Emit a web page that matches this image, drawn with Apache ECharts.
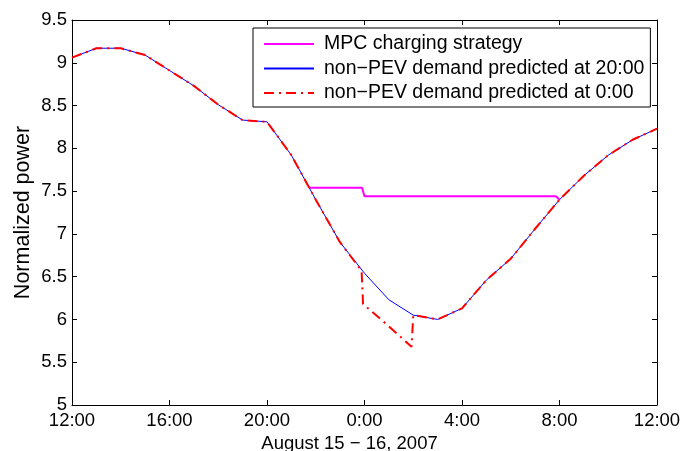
<!DOCTYPE html>
<html>
<head>
<meta charset="utf-8">
<script src="https://cdn.jsdelivr.net/npm/echarts@6/dist/echarts.min.js"></script>
<style>html,body{margin:0;padding:0;background:#fff}#c{width:684px;height:451px}</style>
</head>
<body>
<div id="c"></div>
<script>
// x values: hours elapsed since 12:00 on August 15
var xTickLabels = ['12:00','16:00','20:00','0:00','4:00','8:00','12:00'];
var hours20 = [0,1,2,3,4,5,6,7,8,9,10,11,12,13,14,15,16,17,18,19,20,21,22,23,24];
var demand20 = [9.06,9.17,9.17,9.09,8.91,8.73,8.51,8.33,8.31,7.92,7.40,6.90,6.54,6.23,6.05,6.00,6.13,6.46,6.71,7.06,7.40,7.68,7.92,8.10,8.23];
var hours0 = [0,1,2,3,4,5,6,7,8,9,10,11,11.88,11.94,13,13.93,14,15,16,17,18,19,20,21,22,23,24];
var demand0 = [9.06,9.17,9.17,9.09,8.91,8.73,8.51,8.33,8.31,7.92,7.40,6.90,6.57,6.18,5.92,5.68,6.05,6.00,6.13,6.46,6.71,7.06,7.40,7.68,7.92,8.10,8.23];
var mpcHours = [9.75,11.9,12,19.85,20];
var mpcValues = [7.54,7.54,7.44,7.44,7.40];
var seriesNames = ['MPC charging strategy','non\u2212PEV demand predicted at 20:00','non\u2212PEV demand predicted at 0:00'];

function pairs(xs, ys){ return xs.map(function(x,i){ return [x, ys[i]]; }); }

var FONT = 'Liberation Sans, Arial, Helvetica, sans-serif';
var FS = 18.5;
var chart = echarts.init(document.getElementById('c'), null, {renderer:'canvas'});
var tickCommon = {show:true, inside:true, length:5, lineStyle:{color:'#000', width:1}};
chart.setOption({
  animation:false,
  backgroundColor:'#fff',
  grid:{left:72, right:27, top:20, bottom:46, containLabel:false, outerBoundsMode:'none'},
  legend:{
    orient:'vertical', left:253, top:28,
    padding:[6,6,4,10], itemGap:4.5, itemWidth:50, itemHeight:20,
    backgroundColor:'#fff', borderColor:'#000', borderWidth:1,
    itemStyle:{opacity:0},
    textStyle:{fontFamily:FONT, fontSize:19.5, color:'#000', padding:[0,0,0,5]},
    data:seriesNames
  },
  xAxis:[{
    type:'value', min:0, max:24, interval:4,
    name:'August 15 \u2212 16, 2007', nameLocation:'middle', nameGap:22,
    nameTextStyle:{fontFamily:FONT, fontSize:FS, color:'#000', padding:[0,30,0,0]},
    axisLine:{show:true, lineStyle:{color:'#000', width:1}},
    axisTick:tickCommon, splitLine:{show:false},
    axisLabel:{fontFamily:FONT, fontSize:FS, color:'#000', margin:6,
      formatter:function(v){ return xTickLabels[Math.round(v/4)]; }}
  },{
    type:'value', position:'top', min:0, max:24, interval:4,
    axisLine:{show:true, onZero:false, lineStyle:{color:'#000', width:1}},
    axisTick:tickCommon, axisLabel:{show:false}, splitLine:{show:false}
  }],
  yAxis:[{
    type:'value', min:5, max:9.5, interval:0.5,
    name:'Normalized power', nameLocation:'middle', nameGap:38, nameMoveOverlap:false,
    nameTextStyle:{fontFamily:FONT, fontSize:21.5, color:'#000'},
    axisLine:{show:true, lineStyle:{color:'#000', width:1}},
    axisTick:tickCommon, splitLine:{show:false},
    axisLabel:{fontFamily:FONT, fontSize:FS, color:'#000', margin:5}
  },{
    type:'value', position:'right', min:5, max:9.5, interval:0.5,
    axisLine:{show:true, onZero:false, lineStyle:{color:'#000', width:1}},
    axisTick:tickCommon, axisLabel:{show:false}, splitLine:{show:false}
  }],
  series:[{
    name:seriesNames[0], type:'line', symbol:'none', data:pairs(mpcHours, mpcValues),
    lineStyle:{color:'#ff00ff', width:2}, itemStyle:{color:'#ff00ff'}, z:2
  },{
    name:seriesNames[1], type:'line', symbol:'none', data:pairs(hours20, demand20),
    lineStyle:{color:'#0000ff', width:1}, itemStyle:{color:'#0000ff'}, z:3
  },{
    name:seriesNames[2], type:'line', symbol:'none', data:pairs(hours0, demand0),
    lineStyle:{color:'#ff0000', width:2, type:[10,5,2,5]}, itemStyle:{color:'#ff0000'}, z:4
  }]
});
</script>
</body>
</html>
